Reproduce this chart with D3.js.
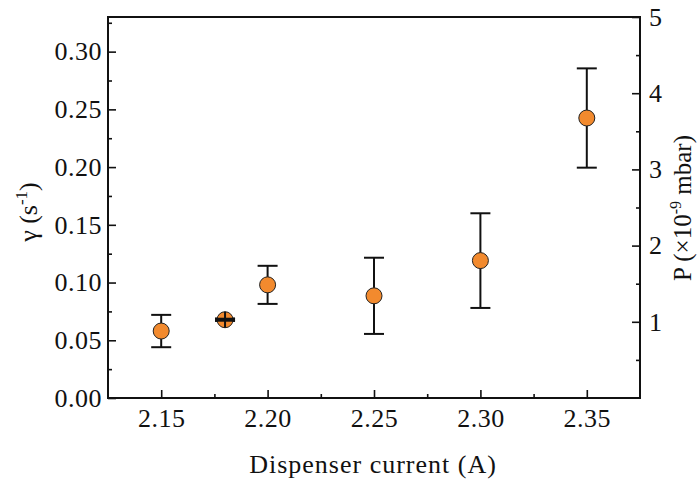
<!DOCTYPE html>
<html>
<head>
<meta charset="utf-8">
<script src="https://cdn.jsdelivr.net/npm/d3@7"></script>
<style>
  body { margin: 0; background: #fff; }
</style>
</head>
<body>
<script>
'use strict';

// measured values
const current = [2.15, 2.18, 2.20, 2.25, 2.30, 2.35];
const gamma = [0.058, 0.0678, 0.098, 0.0885, 0.119, 0.2425];
const gammaErr = [0.014, 0.001, 0.0165, 0.033, 0.041, 0.043];

const xTicks = [2.15, 2.20, 2.25, 2.30, 2.35];
const yTicks = [0, 0.05, 0.10, 0.15, 0.20, 0.25, 0.30];
const pTicks = [1, 2, 3, 4, 5];

(function() {
  const width = 700, height = 483;
  const plotLeft = 108, plotRight = 640, plotTop = 17, plotBottom = 398;
  const serif = '"Liberation Serif", "DejaVu Serif", serif';

  let svg = d3.select('body').append('svg')
    .attr('width', width)
    .attr('height', height)
    .style('font-family', serif);

  let xScale = d3.scaleLinear().domain([2.125, 2.375]).range([plotLeft, plotRight]);
  let yScale = d3.scaleLinear().domain([0, 0.33]).range([plotBottom, plotTop]);
  let pScale = d3.scaleLinear().domain([0, 5]).range([plotBottom, plotTop]);

  // axes with inward ticks
  function styleAxis(g) {
    g.attr('font-family', null).attr('font-size', null);
    g.select('.domain').remove();
    g.selectAll('line').attr('stroke', '#111').attr('stroke-width', 1.6);
    g.selectAll('text')
      .style('font-family', serif)
      .style('font-size', '26px')
      .style('letter-spacing', '0.5px')
      .attr('fill', '#111');
  }

  // minor ticks first
  svg.append('g')
    .attr('transform', `translate(0, ${plotBottom})`)
    .call(d3.axisTop(xScale).tickValues([2.175, 2.225, 2.275, 2.325]).tickSize(4).tickFormat(''))
    .call(styleAxis);
  svg.append('g')
    .attr('transform', `translate(${plotLeft}, 0)`)
    .call(d3.axisRight(yScale).tickValues([0.025, 0.075, 0.125, 0.175, 0.225, 0.275, 0.325]).tickSize(4).tickFormat(''))
    .call(styleAxis);
  svg.append('g')
    .attr('transform', `translate(${plotRight}, 0)`)
    .call(d3.axisLeft(pScale).tickValues([0.5, 1.5, 2.5, 3.5, 4.5]).tickSize(4).tickFormat(''))
    .call(styleAxis);

  // major ticks
  let xAxis = svg.append('g')
    .attr('transform', `translate(0, ${plotBottom})`)
    .call(d3.axisTop(xScale).tickValues(xTicks).tickSize(8).tickFormat(d3.format('.2f')))
    .call(styleAxis);
  xAxis.selectAll('text').attr('y', 29);

  let yAxis = svg.append('g')
    .attr('transform', `translate(${plotLeft}, 0)`)
    .call(d3.axisRight(yScale).tickValues(yTicks).tickSize(8).tickFormat(d3.format('.2f')))
    .call(styleAxis);
  yAxis.selectAll('text').attr('x', -6).attr('text-anchor', 'end');

  let pAxis = svg.append('g')
    .attr('transform', `translate(${plotRight}, 0)`)
    .call(d3.axisLeft(pScale).tickValues(pTicks).tickSize(8).tickFormat(d3.format('d')))
    .call(styleAxis);
  pAxis.selectAll('text').attr('x', 9).attr('text-anchor', 'start');

  // frame
  svg.append('rect')
    .attr('x', plotLeft).attr('y', plotTop)
    .attr('width', plotRight - plotLeft).attr('height', plotBottom - plotTop)
    .attr('fill', 'none')
    .attr('stroke', '#111')
    .attr('stroke-width', 2);

  // error bars
  let rows = current.map((c, i) => ({ x: c, y: gamma[i], e: gammaErr[i] }));
  let bars = svg.append('g').attr('stroke', '#111').attr('stroke-width', 2);
  rows.forEach((d) => {
    let cx = xScale(d.x);
    let y1 = yScale(d.y + d.e), y2 = yScale(d.y - d.e);
    bars.append('line').attr('x1', cx).attr('x2', cx).attr('y1', y1).attr('y2', y2);
    bars.append('line').attr('x1', cx - 10).attr('x2', cx + 10).attr('y1', y1).attr('y2', y1);
    bars.append('line').attr('x1', cx - 10).attr('x2', cx + 10).attr('y1', y2).attr('y2', y2);
  });

  // points
  svg.selectAll('.dot')
    .data(rows)
    .enter()
    .append('circle')
      .attr('cx', (d) => xScale(d.x))
      .attr('cy', (d) => yScale(d.y))
      .attr('r', 8)
      .attr('fill', '#f28a2e')
      .attr('stroke', '#222')
      .attr('stroke-width', 1);

  // the tiny bar at 2.18 shows over its marker
  rows.filter((d) => d.e < 0.005).forEach((d) => {
    let cx = xScale(d.x);
    svg.append('line').attr('x1', cx - 10).attr('x2', cx + 10)
      .attr('y1', yScale(d.y)).attr('y2', yScale(d.y))
      .attr('stroke', '#111').attr('stroke-width', 4);
    svg.append('line').attr('x1', cx).attr('x2', cx)
      .attr('y1', yScale(d.y) - 8).attr('y2', yScale(d.y) + 8)
      .attr('stroke', '#111').attr('stroke-width', 2);
  });

  // labels
  svg.append('text')
    .attr('x', (plotLeft + plotRight) / 2 - 1)
    .attr('y', 473)
    .attr('text-anchor', 'middle')
    .attr('fill', '#111')
    .style('font-size', '26px')
    .style('letter-spacing', '1px')
    .text('Dispenser current (A)');

  let yl = svg.append('text')
    .attr('transform', 'translate(37, 212)rotate(-90)')
    .attr('text-anchor', 'middle')
    .attr('fill', '#111')
    .style('font-size', '26px');
  yl.append('tspan').text('γ (s');
  yl.append('tspan').attr('dy', -10).style('font-size', '17px').text('-1');
  yl.append('tspan').attr('dy', 10).text(')');

  let pl = svg.append('text')
    .attr('transform', 'translate(691, 208)rotate(-90)')
    .attr('text-anchor', 'middle')
    .attr('fill', '#111')
    .style('font-size', '25px');
  pl.append('tspan').text('P (×10');
  pl.append('tspan').attr('dy', -10).style('font-size', '16px').text('-9');
  pl.append('tspan').attr('dy', 10).text(' mbar)');
})();
</script>
</body>
</html>
